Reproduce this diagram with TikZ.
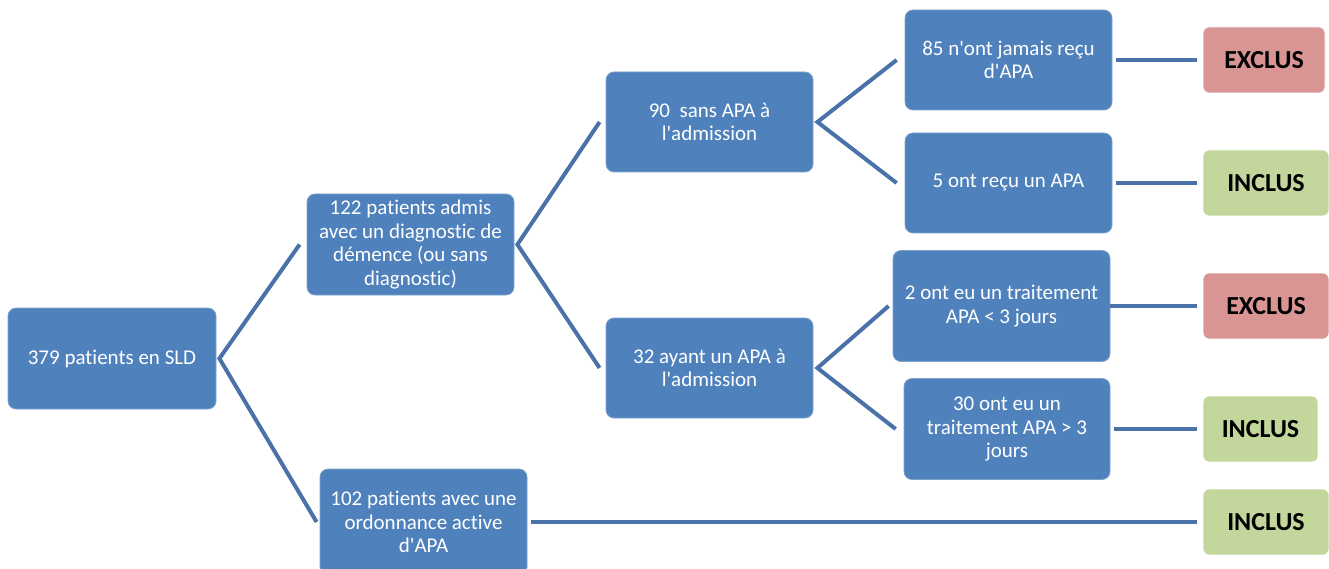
\documentclass[tikz,border=0pt]{standalone}
\usepackage{fontspec}
\setmainfont{Carlito}[Ligatures={TeXOff,NoCommon}]
\definecolor{boxblue}{HTML}{4F81BD}
\definecolor{boxedge}{HTML}{7EA1CC}
\definecolor{linkblue}{HTML}{4A72A8}
\definecolor{exred}{HTML}{D99594}
\definecolor{ingreen}{HTML}{C3D69B}
\tikzset{
  bluebox/.style={draw=boxedge, line width=0.8pt, fill=boxblue, rounded corners=8pt, text=white,
    align=center, inner sep=0pt, font=\fontsize{21}{23.5}\selectfont},
  outbox/.style={draw=white, line width=0.8pt, rounded corners=6pt, text=black,
    align=center, inner sep=0pt, font=\fontsize{26}{28}\selectfont\bfseries},
  link/.style={draw=linkblue, line width=4pt}
}
\begin{document}
\begin{tikzpicture}[x=1pt,y=-1pt]
\useasboundingbox (0,0) rectangle (1329,569);
\node[bluebox, minimum width=208pt, minimum height=101pt] (root) at (112,358.5) {379 patients en SLD};
\node[bluebox, minimum width=207pt, minimum height=101pt] (n122) at (410.5,244.5) {122 patients admis\\avec un diagnostic de\\démence (ou sans\\diagnostic)};
\node[bluebox, minimum width=207pt, minimum height=100pt] (n90) at (709.5,122) {90\ \ sans APA à\\l'admission};
\node[bluebox, minimum width=207pt, minimum height=100pt] (n32) at (709.5,368) {32 ayant un APA à\\l'admission};
\node[bluebox, minimum width=207pt, minimum height=100pt] (n85) at (1008.5,60) {85 n'ont jamais reçu\\d'APA};
\node[bluebox, minimum width=207pt, minimum height=100pt] (n5) at (1008.5,183) {5 ont reçu un APA};
\node[bluebox, minimum width=217pt, minimum height=111pt] (n2) at (1001.5,306) {2 ont eu un traitement\\APA < 3 jours};
\node[bluebox, minimum width=206pt, minimum height=101pt] (n30) at (1007,429) {30 ont eu un\\traitement APA > 3\\jours};
\node[bluebox, minimum width=207pt, minimum height=106pt] (n102) at (423.5,522) {102 patients avec une\\ordonnance active\\d'APA};
\node[outbox, fill=exred, minimum width=122pt, minimum height=66pt] (ex1) at (1264,60) {EXCLUS};
\node[outbox, fill=ingreen, minimum width=126pt, minimum height=66pt] (in1) at (1266,183) {INCLUS};
\node[outbox, fill=exred, minimum width=126pt, minimum height=66pt] (ex2) at (1266,306) {EXCLUS};
\node[outbox, fill=ingreen, minimum width=115pt, minimum height=66pt] (in2) at (1260.5,429) {INCLUS};
\node[outbox, fill=ingreen, minimum width=126pt, minimum height=66pt] (in3) at (1266,522) {INCLUS};
% connectors
\draw[link] ([xshift=-7pt]n122.west) -- ([xshift=3pt]root.east) -- ([xshift=-3pt]n102.west);
\draw[link] ([xshift=-6pt]n90.west) -- ([xshift=3pt]n122.east) -- ([xshift=-6pt]n32.west);
\draw[link] ([xshift=-8pt]n85.west) -- ([xshift=4pt]n90.east) -- ([xshift=-8pt]n5.west);
\draw[link] ([xshift=-4pt]n2.west) -- ([xshift=4pt]n32.east) -- ([xshift=-8pt]n30.west);
\draw[link] ([xshift=4pt]n85.east) -- ([xshift=-6pt]ex1.west);
\draw[link] ([xshift=4pt]n5.east) -- ([xshift=-6pt]in1.west);
\draw[link] ([xshift=0pt]n2.east) -- ([xshift=-6pt]ex2.west);
\draw[link] ([xshift=4pt]n30.east) -- ([xshift=-6pt]in2.west);
\draw[link] ([xshift=4pt]n102.east) -- ([xshift=-6pt]in3.west);
\end{tikzpicture}
\end{document}
